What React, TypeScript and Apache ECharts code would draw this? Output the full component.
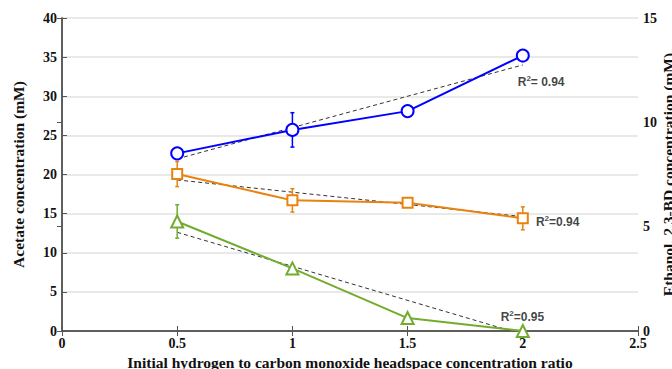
import React, { useEffect, useRef } from "react";
import * as echarts from "echarts";

const xValues = [0.5, 1, 1.5, 2];
const acetate = [22.7, 25.7, 28.1, 35.2];
const acetateErr = [0.5, 2.2, 0.3, 0.6];
const ethanol = [7.52, 6.26, 6.15, 5.4];
const ethanolErr = [0.6, 0.56, 0.1, 0.55];
const butanediol = [5.25, 3.0, 0.62, 0.0];
const butanediolErr = [0.8, 0.1, 0.05, 0.05];

const acetateTrendX = [0.5, 2];
const acetateTrendY = [22.0, 34.0];
const ethanolTrendX = [0.5, 2];
const ethanolTrendY = [7.24, 5.48];
const butanediolTrendX = [0.5, 1.95];
const butanediolTrendY = [4.73, 0];

const r2Labels = ["R{sup|2}= 0.94", "R{sup|2}=0.94", "R{sup|2}=0.95"];

const BLUE = "#0000ff";
const ORANGE = "#e8830f";
const GREEN = "#72ac2e";
const SERIF = "'Liberation Serif', 'Times New Roman', serif";
const SANS = "'Liberation Sans', Arial, sans-serif";

function errorSeries(vals: number[], errs: number[], color: string, yAxisIndex: number) {
  return {
    type: "custom",
    yAxisIndex,
    z: 3,
    data: xValues.map((x, i) => [x, vals[i], errs[i]]),
    encode: { x: 0, y: 1 },
    renderItem: (params: any, api: any) => {
      const x = api.value(0);
      const y = api.value(1);
      const e = api.value(2);
      const top = api.coord([x, y + e]);
      const bot = api.coord([x, y - e]);
      const cw = 2;
      const st = { stroke: color, lineWidth: 1.5 };
      return {
        type: "group",
        children: [
          { type: "line", shape: { x1: top[0], y1: top[1], x2: bot[0], y2: bot[1] }, style: st },
          { type: "line", shape: { x1: top[0] - cw, y1: top[1], x2: top[0] + cw, y2: top[1] }, style: st },
          { type: "line", shape: { x1: bot[0] - cw, y1: bot[1], x2: bot[0] + cw, y2: bot[1] }, style: st },
        ],
      };
    },
  };
}

function lineSeries(vals: number[], color: string, symbol: string, size: number, yAxisIndex: number) {
  return {
    type: "line",
    yAxisIndex,
    z: 4,
    data: xValues.map((x, i) => [x, vals[i]]),
    symbol,
    symbolSize: size,
    showAllSymbol: true,
    lineStyle: { color, width: 2 },
    itemStyle: { color, borderColor: color, borderWidth: 1.8 },
  };
}

function trendSeries(xs: number[], ys: number[], yAxisIndex: number) {
  return {
    type: "line",
    yAxisIndex,
    z: 2,
    data: xs.map((x, i) => [x, ys[i]]),
    symbol: "none",
    lineStyle: { color: "#333", width: 1, type: [4, 3] },
  };
}

function labelSeries(pos: number[], text: string, yAxisIndex: number) {
  return {
    type: "scatter",
    yAxisIndex,
    z: 5,
    symbolSize: 0,
    data: [pos],
    label: {
      show: true,
      position: "right",
      distance: 0,
      formatter: text,
      color: "#111",
      fontFamily: SANS,
      fontWeight: "bold",
      fontSize: 12,
      rich: {
        sup: { fontSize: 8, fontFamily: SANS, fontWeight: "bold", color: "#111", verticalAlign: "top", padding: [0, 0, 7, 0] },
      },
    },
  };
}

export default function App() {
  const ref = useRef<HTMLDivElement>(null);
  useEffect(() => {
    if (!ref.current) return;
    const chart = echarts.init(ref.current, null, { renderer: "svg" });
    const axisLine = { show: true, lineStyle: { color: "#555", width: 1.5 } };
    const tickStyle = { show: true, inside: true, length: 5, lineStyle: { color: "#555", width: 1 } };
    const tickLabel = { color: "#111", fontFamily: SERIF, fontWeight: "bold", fontSize: 14 };
    const nameStyle = { color: "#111", fontFamily: SERIF, fontWeight: "bold", fontSize: 15.5 };
    chart.setOption({
      animation: false,
      backgroundColor: "#fff",
      grid: { left: 62, right: 34, top: 18, bottom: 38, containLabel: false, outerBoundsMode: "none" },
      xAxis: [
        {
          type: "value",
          position: "bottom",
          min: 0,
          max: 2.5,
          interval: 0.5,
          axisLine,
          axisTick: tickStyle,
          axisLabel: { ...tickLabel, margin: 5 },
          splitLine: { show: false },
          name: "Initial hydrogen to carbon monoxide headspace concentration ratio",
          nameLocation: "middle",
          nameGap: 23,
          nameMoveOverlap: false,
          nameTextStyle: nameStyle,
        },
        {
          type: "value",
          position: "top",
          min: 0,
          max: 2.5,
          interval: 0.5,
          axisLine,
          axisTick: tickStyle,
          axisLabel: { show: false },
          splitLine: { show: false },
        },
      ],
      yAxis: [
        {
          type: "value",
          position: "left",
          min: 0,
          max: 40,
          interval: 5,
          axisLine,
          axisTick: tickStyle,
          axisLabel: { ...tickLabel, margin: 5 },
          splitLine: { show: true, lineStyle: { color: "#e2e2e2", width: 1.5 } },
          name: "Acetate concentration (mM)",
          nameLocation: "middle",
          nameGap: 36,
          nameMoveOverlap: false,
          nameTextStyle: nameStyle,
        },
        {
          type: "value",
          position: "right",
          min: 0,
          max: 15,
          interval: 5,
          axisLine,
          axisTick: tickStyle,
          axisLabel: { ...tickLabel, margin: 5 },
          splitLine: { show: false },
          name: "Ethanol, 2,3-BD concentration (mM)",
          nameLocation: "middle",
          nameGap: 22,
          nameMoveOverlap: false,
          nameTextStyle: nameStyle,
        },
      ],
      series: [
        trendSeries(acetateTrendX, acetateTrendY, 0),
        trendSeries(ethanolTrendX, ethanolTrendY, 1),
        trendSeries(butanediolTrendX, butanediolTrendY, 1),
        errorSeries(acetate, acetateErr, BLUE, 0),
        errorSeries(ethanol, ethanolErr, ORANGE, 1),
        errorSeries(butanediol, butanediolErr, GREEN, 1),
        lineSeries(acetate, BLUE, "emptyCircle", 12, 0),
        lineSeries(ethanol, ORANGE, "emptyRect", 10, 1),
        lineSeries(butanediol, GREEN, "emptyTriangle", 12, 1),
        labelSeries([1.978, 31.8], r2Labels[0], 0),
        labelSeries([2.057, 5.22], r2Labels[1], 1),
        labelSeries([1.904, 0.67], r2Labels[2], 1),
      ],
    });
    return () => chart.dispose();
  }, []);
  return <div ref={ref} style={{ position: "fixed", left: 0, top: 0, width: 672, height: 369 }} />;
}
